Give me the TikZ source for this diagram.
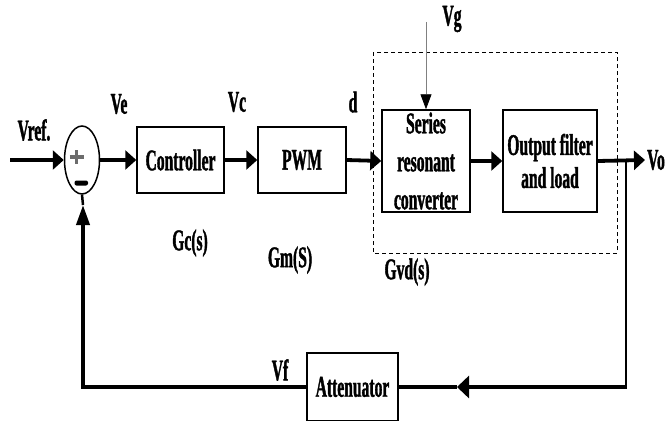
\documentclass[tikz,border=0pt]{standalone}
\usepackage{fontspec}
\setmainfont{Liberation Serif}[FakeStretch=0.52,FakeBold=1.2]
\usetikzlibrary{arrows.meta,shapes.geometric}
\begin{document}
\begin{tikzpicture}[x=1pt,y=-1pt,
  font=\fontsize{30}{32}\selectfont\bfseries,
  blk/.style={draw, line width=1.5pt, inner sep=0pt, align=center},
  sig/.style={line width=3.8pt, -{Triangle[length=11pt,width=19pt]}},
  thick line/.style={line width=3.8pt, line join=miter},
  lbl/.style={inner sep=0pt}]
\useasboundingbox (0,0) rectangle (668,420);
% summing junction
\node[ellipse, draw, line width=1.5pt, minimum width=35pt, minimum height=68pt, inner sep=0pt] (sum) at (82,160) {};
\draw[gray!85!black, line width=3.2pt] (69.5,157) -- (83.5,157) (76.5,150) -- (76.5,164);
\fill[rounded corners=2pt] (74.5,180.5) rectangle (88,185.5);
% blocks
\node[blk, minimum width=87pt, minimum height=66pt] (ctrl) at (180.5,160) {Controller};
\node[blk, minimum width=88pt, minimum height=66pt] (pwm) at (302,160) {PWM};
\node[blk, minimum width=88pt, minimum height=102pt, font=\fontsize{30}{38}\selectfont\bfseries] (src) at (426,161) {Series\\resonant\\converter};
\node[blk, minimum width=94pt, minimum height=102pt, font=\fontsize{30}{33}\selectfont\bfseries] (of) at (550,161) {Output filter\\and load};
\node[blk, minimum width=91pt, minimum height=68pt] (att) at (352.5,387) {\raisebox{-3pt}{Attenuator}};
% dashed plant frame
\draw[dashed, line width=0.9pt, dash pattern=on 4pt off 3pt] (373,52) rectangle (617,253);
% coordinates
\coordinate (in) at (10,160);
\coordinate (out) at (645,160);
\coordinate (tap) at (626,160);
\coordinate (br) at (626,387);
\coordinate (fbtip) at (457,387);
\coordinate (bl) at (83,387);
\coordinate (uptip) at (83,205);
\coordinate (vgs) at (426,22);
% forward path
\draw[sig] (in) -- (sum.west);
\draw[sig] (sum.east) -- (ctrl.west);
\draw[sig] (ctrl.east) -- (pwm.west);
\draw[sig] (pwm.east) -- (src.west);
\draw[sig] (src.east) -- (of.west);
\draw[sig] (of.east) -- (out);
% disturbance
\draw[gray, line width=0.8pt, -{Triangle[length=15pt,width=11pt,color=black]}] (vgs) -- (src.north);
% feedback path
\draw[line width=2.5pt] (tap) -- (br);
\draw[thick line, -{Triangle[length=12pt,width=22pt]}] ([xshift=1.2pt]br) -- (fbtip);
\draw[thick line] (fbtip) -- (att.east);
\draw[thick line, -{Triangle[length=20pt,width=13pt]}] (att.west) -- (bl) -- (uptip);
\draw[line width=2.5pt] (uptip) -- (sum.south);
% labels
\node[lbl] (lvref) at (34,130) {Vref.};
\node[lbl] (lve) at (119,104) {Ve};
\node[lbl] (lvc) at (237,102) {Vc};
\node[lbl] (ld) at (353,102) {d};
\node[lbl] (lvg) at (452,19) {Vg};
\node[lbl, anchor=west] (lvo) at (647,160) {Vo};
\node[lbl] (lgc) at (190,243) {Gc(s)};
\node[lbl] (lgm) at (290,260) {Gm(S)};
\node[lbl] (lgvd) at (407,272) {Gvd(s)};
\node[lbl] (lvf) at (280,370) {Vf};
\end{tikzpicture}
\end{document}
